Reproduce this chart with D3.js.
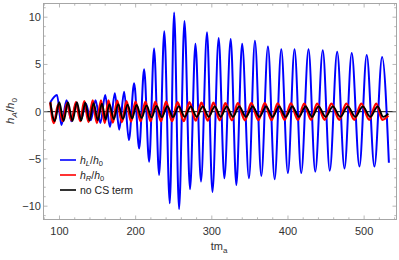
<!DOCTYPE html>
<html><head><meta charset="utf-8">
<script src="https://cdn.jsdelivr.net/npm/d3@7"></script>
<style>html,body{margin:0;padding:0;background:#fff;}svg{display:block;font-family:"Liberation Sans",Arial,sans-serif;}</style>
</head><body>
<script>
// ---- data ----
const blueStart = [[88, 1.0]];
const bluePeaks = [[96.7,1.77],[109.3,1.2],[122.0,0.9],[134.7,0.85],[147.3,1.2],[160.0,1.77],[172.7,1.95],[184.9,2.1],[198.0,3.0],[211.1,4.5],[224.2,6.7],[237.6,8.5],[250.5,10.5],[264.1,9.6],[278.5,7.2],[293.7,8.4],[309.0,7.8],[324.8,7.7],[339.8,7.2],[356.6,7.5],[373.7,6.9],[391.2,6.6],[408.6,6.6],[427.0,6.6],[445.7,6.5],[464.6,6.35],[483.7,6.2],[503.4,6.0],[523.6,5.8]];
const blueTroughs = [[102.6,-1.4],[115.7,-1.0],[128.2,-0.8],[141.0,-0.9],[153.7,-1.2],[166.2,-1.6],[178.4,-1.9],[191.1,-3.0],[204.6,-3.9],[217.7,-5.3],[230.8,-6.7],[244.8,-9.7],[257.0,-10.3],[271.4,-8.2],[285.8,-7.4],[300.8,-8.5],[316.5,-7.05],[332.2,-7.75],[348.8,-7.05],[365.0,-6.8],[382.5,-7.15],[399.9,-6.5],[417.4,-6.5],[435.8,-6.35],[454.9,-6.24],[474.2,-6.0],[493.8,-5.8],[513.5,-5.8]];
const blueEnd = [[532.5,-5.4]];

const blackPeakT = [87.9,99.7,111.1,122.9,133.8,144.8,155.7,165.5,177.1,189.4,201.2,214.3,227.4,241.5,256.6,272.3,288.1,303.8,319.5,335.9,353.6,371.3,388.3,405.6,423.1,440.1,458.9,478.5,498.2,517.8];
const blackPeakV = [1.0,1.0,1.0,1.0,0.95,0.9,0.85,0.8,0.8,0.75,0.7,0.65,0.6,0.58,0.56,0.55,0.55,0.55,0.55,0.55,0.55,0.55,0.55,0.55,0.55,0.55,0.55,0.55,0.55,0.55];
const blackTroughT = [93.8,105.4,117.0,128.4,139.3,150.3,160.6,171.3,183.3,195.3,207.8,220.9,234.5,249.1,264.5,280.2,296.0,311.7,327.7,344.8,362.5,379.8,397.0,414.4,431.6,449.5,468.7,488.4,508.0,525.0];
const blackTroughV = [-1.0,-1.0,-1.0,-0.95,-0.95,-0.9,-0.85,-0.8,-0.75,-0.7,-0.65,-0.6,-0.58,-0.56,-0.55,-0.55,-0.55,-0.55,-0.55,-0.55,-0.55,-0.55,-0.55,-0.55,-0.55,-0.55,-0.55,-0.55,-0.55,-0.55];
const blackEnd = [[531.8, -0.2]];

const redPeakT = [87.9,98.5,110.0,121.7,132.6,143.6,154.5,164.3,175.8,188.0,199.8,212.8,225.8,239.9,255.0,270.6,286.4,302.1,317.8,334.2,351.8,369.5,386.5,403.8,421.3,438.3,457.0,476.6,496.3,515.9];
const redPeakV = [1.0,0.8,0.9,1.0,1.1,1.2,1.2,1.2,1.15,1.1,1.05,1.05,1.05,1.05,1.0,1.0,0.95,0.95,0.9,0.9,0.9,0.9,0.88,0.88,0.85,0.85,0.85,0.85,0.85,0.85];
const redTroughT = [92.6,104.2,115.8,127.2,138.1,149.1,159.4,170.0,182.0,194.0,206.5,219.6,233.2,247.8,263.2,278.9,294.7,310.4,326.4,343.5,361.2,378.5,395.7,413.1,430.3,448.2,467.4,487.1,506.7,524.0];
const redTroughV = [-1.2,-1.0,-0.9,-1.0,-1.1,-1.2,-1.2,-1.15,-1.1,-1.05,-1.0,-1.0,-1.0,-1.0,-1.0,-0.95,-0.95,-0.9,-0.9,-0.9,-0.88,-0.88,-0.85,-0.85,-0.85,-0.85,-0.85,-0.85,-0.85,-0.85];
const redEnd = [[531.8, -0.4]];

const xTicks = [100,200,300,400,500];
const yTicks = [-10,-5,0,5,10];
const legendLabels = [["h","L"],["h","R"],["no CS term"]];
const seriesColors = ["#0000ff","#ff0000","#000000"];

// ---- build series ----
function merge(peaks, troughs, start, end){
  return start.concat(peaks, troughs, end).sort((a,b)=>a[0]-b[0]);
}
const zip=(t,v)=>t.map((d,i)=>[d,v[i]]);
const blue = merge(bluePeaks, blueTroughs, blueStart, blueEnd);
const black = merge(zip(blackPeakT,blackPeakV), zip(blackTroughT,blackTroughV), [], blackEnd);
const red = merge(zip(redPeakT,redPeakV), zip(redTroughT,redTroughV), [], redEnd);

const W=399,H=260;
const L=43.5,R=396.5,T=3.5,B=219.5;
const x=d3.scaleLinear().domain([79,542.5]).range([L,R]);
const y=d3.scaleLinear().domain([-11.41,11.45]).range([B,T]);

const svg=d3.select("body").append("svg").attr("width",W).attr("height",H);
const frameCol="#a6a6a6";

// series
const line=d3.line().x(d=>x(d[0])).y(d=>y(d[1])).curve(d3.curveMonotoneX);
const clip=svg.append("clipPath").attr("id","c").append("rect").attr("x",L).attr("y",T).attr("width",R-L).attr("height",B-T);
const g=svg.append("g").attr("clip-path","url(#c)");
// zero axis
g.append("line").attr("x1",L).attr("x2",R).attr("y1",y(0)).attr("y2",y(0)).attr("stroke","#000").attr("stroke-width",1);
g.append("path").datum(blue).attr("d",line).attr("fill","none").attr("stroke",seriesColors[0]).attr("stroke-width",2);
g.append("path").datum(red).attr("d",line).attr("fill","none").attr("stroke",seriesColors[1]).attr("stroke-width",2.4);
g.append("path").datum(black).attr("d",line).attr("fill","none").attr("stroke",seriesColors[2]).attr("stroke-width",1.9);

// frame + ticks
svg.append("rect").attr("x",L).attr("y",T).attr("width",R-L).attr("height",B-T).attr("fill","none").attr("stroke",frameCol).attr("stroke-width",1);
const minorX=d3.range(80,541,20), minorY=d3.range(-11,12,1);
const tg=svg.append("g").attr("stroke",frameCol).attr("stroke-width",0.8);
minorX.forEach(v=>{
  const len = xTicks.includes(v)?4:2.2;
  tg.append("line").attr("x1",x(v)).attr("x2",x(v)).attr("y1",B).attr("y2",B-len);
  tg.append("line").attr("x1",x(v)).attr("x2",x(v)).attr("y1",T).attr("y2",T+len);
});
minorY.forEach(v=>{
  const len = yTicks.includes(v)?4:2.2;
  tg.append("line").attr("y1",y(v)).attr("y2",y(v)).attr("x1",L).attr("x2",L+len);
  tg.append("line").attr("y1",y(v)).attr("y2",y(v)).attr("x1",R).attr("x2",R-len);
});
// tick labels
svg.append("g").selectAll("text").data(xTicks).join("text")
  .attr("x",d=>x(d)).attr("y",234.5).attr("text-anchor","middle").attr("font-size",11).attr("fill","#333").text(d=>d);
svg.append("g").selectAll("text").data(yTicks).join("text")
  .attr("x",41).attr("y",d=>y(d)+4).attr("text-anchor","end").attr("font-size",11).attr("fill","#333").text(d=>d<0?"\u2212"+Math.abs(d):d);

// axis labels
const xl=svg.append("text").attr("x",219).attr("y",250).attr("text-anchor","middle").attr("font-size",11).attr("fill","#333");
xl.append("tspan").text("tm");
xl.append("tspan").attr("font-size",8).attr("dy",2.5).text("a");
const yl=svg.append("text").attr("transform","translate(14,111) rotate(-90)").attr("text-anchor","middle").attr("font-size",11.5).attr("fill","#333");
yl.append("tspan").attr("font-style","italic").text("h");
yl.append("tspan").attr("font-style","italic").attr("font-size",8).attr("dy",2.5).text("A");
yl.append("tspan").attr("dy",-2.5).text("/");
yl.append("tspan").attr("font-style","italic").text("h");
yl.append("tspan").attr("font-size",8).attr("dy",2.5).text("0");

// legend
const legY=[160,175,190];
legendLabels.forEach((lab,i)=>{
  svg.append("line").attr("x1",60).attr("x2",76).attr("y1",legY[i]).attr("y2",legY[i]).attr("stroke",seriesColors[i]).attr("stroke-width",1.6);
  const t=svg.append("text").attr("x",80).attr("y",legY[i]+3.8).attr("font-size",10.5).attr("fill","#222");
  if(lab.length===2){
    t.append("tspan").attr("font-style","italic").text(lab[0]);
    t.append("tspan").attr("font-style","italic").attr("font-size",7.5).attr("dy",2.5).text(lab[1]);
    t.append("tspan").attr("dy",-2.5).text("/");
    t.append("tspan").attr("font-style","italic").text("h");
    t.append("tspan").attr("font-size",7.5).attr("dy",2.5).text("0");
  } else t.text(lab[0]);
});
</script>
</body></html>
